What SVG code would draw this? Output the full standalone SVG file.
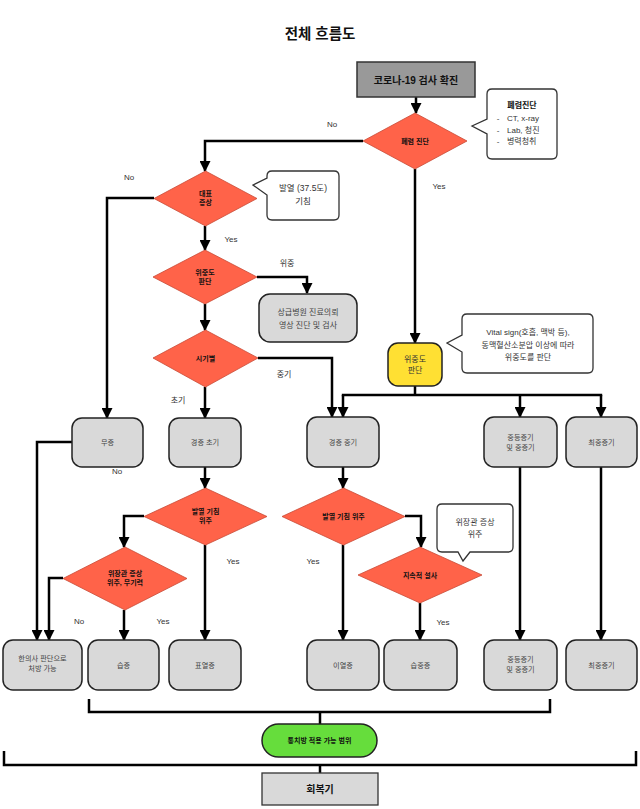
<svg xmlns="http://www.w3.org/2000/svg" width="640" height="809" viewBox="0 0 640 809">
<style>
text{font-family:"Liberation Sans","Noto Sans CJK KR",sans-serif;text-anchor:middle}
.title{font-size:14.5px;font-weight:bold;fill:#111}
.dia{fill:#ff6349;stroke:#c84a36;stroke-width:0.8}
.dt{font-size:7px;font-weight:bold;fill:#111}
.box{fill:#d9d9d9;stroke:#222;stroke-width:1.5}
.bt{font-size:7.2px;fill:#444}
.call{fill:#fff;stroke:#333;stroke-width:1.3}
.ct{font-size:8px;fill:#333}
.lbl{font-size:8px;fill:#333}
.ln{fill:none;stroke:#000;stroke-width:2.5}
.ar{fill:none;stroke:#000;stroke-width:2.5;marker-end:url(#ah)}
</style>
<defs>
<marker id="ah" viewBox="0 0 10 10" refX="9" refY="5" markerUnits="userSpaceOnUse" markerWidth="12" markerHeight="11" orient="auto">
<path d="M0,0 L10,5 L0,10 z" fill="#000"/>
</marker>
</defs>
<rect width="640" height="809" fill="#fff"/>
<text class="title" x="320" y="39">전체 흐름도</text>

<g id="connectors">
<path class="ar" d="M416,97 V113"/>
<path class="ar" d="M363,141 H205 V171"/>
<path class="ar" d="M415,169 V343"/>
<path class="ar" d="M154,198 H107 V418"/>
<path class="ar" d="M205,226 V250"/>
<path class="ar" d="M257,277 H307 V293"/>
<path class="ar" d="M205,304 V330"/>
<path class="ar" d="M258,358 H332 V417"/>
<path class="ar" d="M205,387 V418"/>
<path class="ln" d="M415,386 V395 M341.8,395 H602.2"/>
<path class="ar" d="M343,395 V417"/>
<path class="ar" d="M520,395 V417"/>
<path class="ar" d="M601,395 V417"/>
<path class="ar" d="M205,467 V488"/>
<path class="ar" d="M144,516 H124 V547"/>
<path class="ar" d="M63,578 H49 V640"/>
<path class="ar" d="M124,610 V640"/>
<path class="ar" d="M205,545 V640"/>
<path class="ar" d="M72,442 H37 V640"/>
<path class="ar" d="M343,467 V488"/>
<path class="ar" d="M405,516 H421 V547"/>
<path class="ar" d="M343,545 V640"/>
<path class="ar" d="M420,603 V640"/>
<path class="ar" d="M520,467 V640"/>
<path class="ar" d="M601,467 V640"/>
<path class="ln" d="M89,699 V712 H550 V699 M320,712 V724"/>
<path class="ln" d="M4,751 V765 H636 V751 M320,765 V773"/>
</g>

<g id="labels">
<text class="lbl" x="332" y="127">No</text>
<text class="lbl" x="439" y="189">Yes</text>
<text class="lbl" x="129" y="180">No</text>
<text class="lbl" x="231" y="242">Yes</text>
<text class="lbl" x="287" y="266">위중</text>
<text class="lbl" x="284" y="377">중기</text>
<text class="lbl" x="178" y="403">초기</text>
<text class="lbl" x="117" y="474">No</text>
<text class="lbl" x="233" y="564">Yes</text>
<text class="lbl" x="79" y="624">No</text>
<text class="lbl" x="163" y="624">Yes</text>
<text class="lbl" x="313" y="564">Yes</text>
<text class="lbl" x="443" y="625">Yes</text>
</g>

<g id="n-start">
<rect x="357" y="62" width="118" height="35" fill="#999" stroke="#333" stroke-width="1.5"/>
<text x="416" y="83.5" style="font-size:10px;font-weight:bold;fill:#111">코로나-19 검사 확진</text>
</g>

<g id="n-pneumonia">
<polygon class="dia" points="415,113 467,141 415,169 363,141"/>
<text class="dt" x="415" y="143.5">폐렴 진단</text>
</g>

<g id="c-pneumonia">
<path class="call" d="M492,89 H552 Q557,89 557,94 V154 Q557,159 552,159 H492 Q487,159 487,154 V134 L472,126 L487,119 V94 Q487,89 492,89 Z"/>
<text x="522" y="108" style="font-size:8px;font-weight:bold;fill:#111">폐렴진단</text>
<text class="ct" x="498" y="121">-</text>
<text class="ct" x="507" y="121" style="text-anchor:start">CT, x-ray</text>
<text class="ct" x="498" y="132.5">-</text>
<text class="ct" x="507" y="132.5" style="text-anchor:start">Lab, 청진</text>
<text class="ct" x="498" y="144">-</text>
<text class="ct" x="507" y="144" style="text-anchor:start">병력청취</text>
</g>

<g id="n-symptom">
<polygon class="dia" points="205.5,171 257,198.5 205.5,226 154,198.5"/>
<text class="dt" x="205.5" y="196">대표</text>
<text class="dt" x="205.5" y="205">증상</text>
</g>

<g id="c-fever">
<path class="call" d="M272,171 H334 Q339,171 339,176 V215 Q339,220 334,220 H272 Q267,220 267,215 V195 L253,185 L267,178 V176 Q267,171 272,171 Z"/>
<text class="ct" x="303" y="191" style="font-size:8.5px">발열 (37.5도)</text>
<text class="ct" x="303" y="204" style="font-size:8.5px">기침</text>
</g>

<g id="n-severity">
<polygon class="dia" points="205,250 257,277 205,304 153,277"/>
<text class="dt" x="205" y="275">위중도</text>
<text class="dt" x="205" y="284">판단</text>
</g>

<g id="n-hospital">
<rect class="box" x="259" y="294" width="98" height="48" rx="11"/>
<text class="ct" x="308" y="315" style="fill:#444">상급병원 진료의뢰</text>
<text class="ct" x="308" y="328" style="fill:#444">영상 진단 및 검사</text>
</g>

<g id="n-period">
<polygon class="dia" points="205.5,330 258,358 205.5,387 153,358"/>
<text class="dt" x="205.5" y="360.5">시기별</text>
</g>

<g id="n-yellow">
<rect x="388" y="343" width="54" height="43" rx="10" fill="#ffe033" stroke="#222" stroke-width="1.5"/>
<text class="ct" x="415" y="362" style="fill:#333">위중도</text>
<text class="ct" x="415" y="373" style="fill:#333">판단</text>
</g>

<g id="c-vital">
<path class="call" d="M467,314 H588 Q593,314 593,319 V368 Q593,373 588,373 H467 Q462,373 462,368 V352 L447,343 L462,335 V319 Q462,314 467,314 Z"/>
<text class="ct" x="528" y="335">Vital sign(호흡, 맥박 등),</text>
<text class="ct" x="528" y="348">동맥혈산소분압 이상에 따라</text>
<text class="ct" x="528" y="360">위중도를 판단</text>
</g>

<g id="n-asym">
<rect class="box" x="72" y="418" width="71" height="49" rx="10"/>
<text class="bt" x="107.5" y="445">무증</text>
</g>
<g id="n-mild-early">
<rect class="box" x="169" y="418" width="72" height="49" rx="10"/>
<text class="bt" x="205" y="445">경증 초기</text>
</g>
<g id="n-mild-mid">
<rect class="box" x="307" y="417" width="72" height="50" rx="10"/>
<text class="bt" x="343" y="444.5">경증 중기</text>
</g>
<g id="n-moderate">
<rect class="box" x="484" y="417" width="73" height="50" rx="10"/>
<text class="bt" x="520.5" y="440">중등증기</text>
<text class="bt" x="520.5" y="450">및 중증기</text>
</g>
<g id="n-critical">
<rect class="box" x="566" y="417" width="71" height="50" rx="10"/>
<text class="bt" x="601.5" y="445">최중증기</text>
</g>

<g id="n-fever1">
<polygon class="dia" points="205.5,488 267,516.5 205.5,545 144,516.5"/>
<text class="dt" x="205.5" y="514">발열 기침</text>
<text class="dt" x="205.5" y="523">위주</text>
</g>

<g id="n-gi">
<polygon class="dia" points="125,547 187,578.5 125,610 63,578.5"/>
<text class="dt" x="125" y="576">위장관 증상</text>
<text class="dt" x="125" y="585">위주, 무기력</text>
</g>

<g id="n-fever2">
<polygon class="dia" points="343.5,488 405,516.5 343.5,545 282,516.5"/>
<text class="dt" x="343.5" y="519">발열 기침 위주</text>
</g>

<g id="n-diarrhea">
<polygon class="dia" points="420,547 482,575 420,603 358,575"/>
<text class="dt" x="420" y="577.5">지속적 설사</text>
</g>

<g id="c-gi">
<path class="call" d="M442,504 H508 Q513,504 513,509 V547 Q513,552 508,552 H470 L463,561 L458,552 H442 Q437,552 437,547 V509 Q437,504 442,504 Z"/>
<text class="ct" x="475" y="525">위장관 증상</text>
<text class="ct" x="475" y="537">위주</text>
</g>

<g id="n-doctor">
<rect class="box" x="3" y="640" width="79" height="50" rx="10"/>
<text class="bt" x="42.5" y="661">한의사 판단으로</text>
<text class="bt" x="42.5" y="671">처방 가능</text>
</g>
<g id="n-damp">
<rect class="box" x="88" y="640" width="71" height="50" rx="10"/>
<text class="bt" x="123.5" y="667.5">습증</text>
</g>
<g id="n-exterior">
<rect class="box" x="169" y="640" width="72" height="50" rx="10"/>
<text class="bt" x="205" y="667.5">표열증</text>
</g>
<g id="n-interior">
<rect class="box" x="307" y="640" width="72" height="50" rx="10"/>
<text class="bt" x="343" y="667.5">이열증</text>
</g>
<g id="n-damp-heavy">
<rect class="box" x="384" y="640" width="73" height="50" rx="10"/>
<text class="bt" x="420.5" y="667.5">습중증</text>
</g>
<g id="n-moderate2">
<rect class="box" x="484" y="640" width="73" height="50" rx="10"/>
<text class="bt" x="520.5" y="662">중등증기</text>
<text class="bt" x="520.5" y="672">및 중증기</text>
</g>
<g id="n-critical2">
<rect class="box" x="566" y="640" width="71" height="50" rx="10"/>
<text class="bt" x="601.5" y="667.5">최중증기</text>
</g>

<g id="n-common">
<rect x="262" y="724" width="115" height="33" rx="16.5" fill="#66dd3c" stroke="#222" stroke-width="1.5"/>
<text x="319.5" y="743" style="font-size:7px;font-weight:bold;fill:#111">통치방 적용 가능 범위</text>
</g>

<g id="n-recovery">
<rect x="262" y="773" width="116" height="32" fill="#d9d9d9" stroke="#333" stroke-width="1.3"/>
<text x="320" y="792.5" style="font-size:10px;font-weight:bold;fill:#111">회복기</text>
</g>
</svg>
